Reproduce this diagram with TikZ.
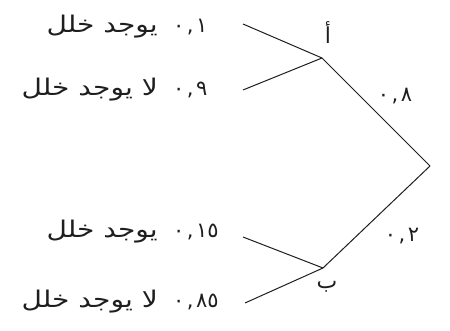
\documentclass[tikz,border=0pt]{standalone}
\usepackage{fontspec}
\usepackage{xcolor}
\usepackage{graphicx}
\usepackage{tikz}
\usetikzlibrary{positioning}
\newfontfamily\arabicfont[Script=Arabic]{DejaVu Sans}
\TeXXeTstate=1
\definecolor{Ink}{HTML}{1E1E1E}
\newcommand{\artext}[1]{\scalebox{1.22}[1]{\beginR#1\endR}}
\newcommand{\dec}[2]{#1\kern2.5pt,\kern2.5pt#2}
\tikzset{
  branch/.style={draw=Ink,line width=1pt},
  outcome/.style={anchor=east,inner sep=0pt,text=Ink,font=\arabicfont\fontsize{23}{27}\selectfont},
  prob/.style={inner sep=0pt,text=Ink,font=\arabicfont\fontsize{21}{25}\selectfont},
  event/.style={inner sep=0pt,text=Ink,font=\arabicfont\fontsize{22}{26}\selectfont}
}

\begin{document}
\begin{tikzpicture}[x=1pt,y=-1pt]
  \useasboundingbox (0,0) rectangle (450,331);
  % tree points
  \coordinate (root) at (430,166);
  \coordinate (A) at (322,58);
  \coordinate (B) at (323,268);
  \coordinate (a1) at (243,24);
  \coordinate (a2) at (243,90);
  \coordinate (b1) at (243,237);
  \coordinate (b2) at (245,303);
  % labels
  \node[event] (labA) at (328,33) {\beginR أ\endR};
  \node[event] (labB) at (327,287) {\beginR ب\endR};
  \node[prob] (pA) at (395,96) {\dec{٠}{٨}};
  \node[prob] (pB) at (402,236) {\dec{٠}{٢}};
  % outcomes
  \node[outcome] (tA1) at (158,27) {\artext{يوجد خلل}};
  \node[prob,right=15pt of tA1.east,anchor=west] (nA1) {\dec{٠}{١}};
  \node[outcome] (tA2) at (158,90) {\artext{لا يوجد خلل}};
  \node[prob,right=15pt of tA2.east,anchor=west] (nA2) {\dec{٠}{٩}};
  \node[outcome] (tB1) at (158,232) {\artext{يوجد خلل}};
  \node[prob,right=15pt of tB1.east,anchor=west] (nB1) {\dec{٠}{١٥}};
  \node[outcome] (tB2) at (158,302) {\artext{لا يوجد خلل}};
  \node[prob,right=15pt of tB2.east,anchor=west] (nB2) {\dec{٠}{٨٥}};
  % branches
  \draw[branch] (root) -- (A);
  \draw[branch] (root) -- (B);
  \draw[branch] (A) -- (a1);
  \draw[branch] (A) -- (a2);
  \draw[branch] (B) -- (b1);
  \draw[branch] (B) -- (b2);
\end{tikzpicture}
\end{document}
